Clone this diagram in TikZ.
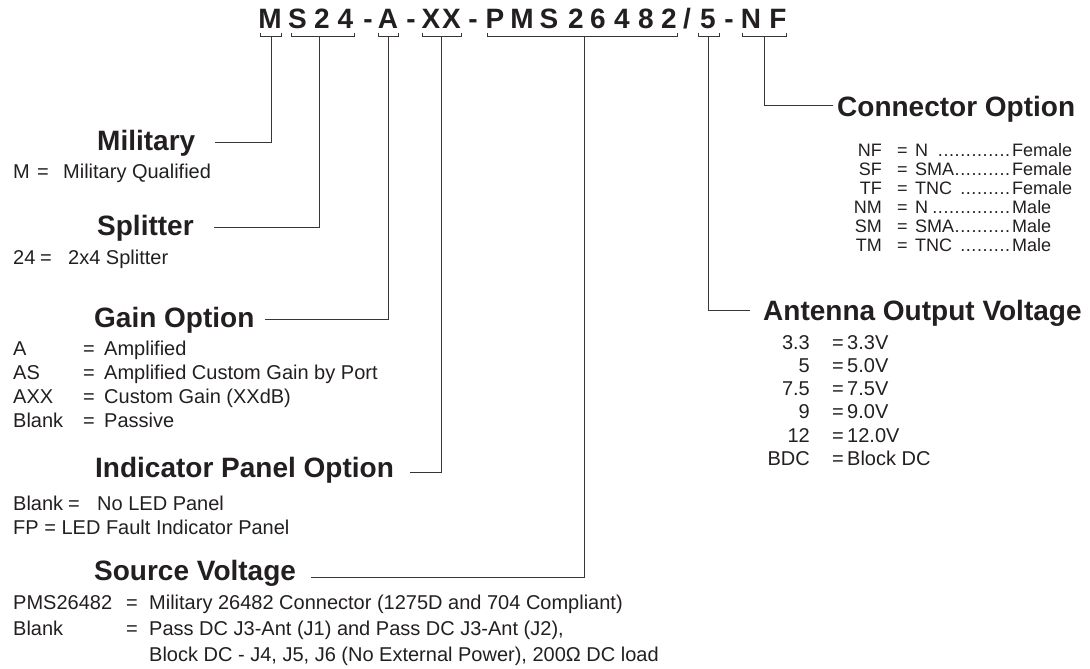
\documentclass[tikz,border=0pt]{standalone}
\usepackage{fontspec}
\setmainfont{Liberation Sans}
\usetikzlibrary{positioning}
\definecolor{ink}{HTML}{231F20}
\tikzset{
  every node/.style={inner sep=0pt, text=ink},
  % --- nodes
  code/.style  = {font=\fontsize{28}{30}\selectfont\bfseries, anchor=base},
  head/.style  = {font=\fontsize{28}{30}\selectfont\bfseries, anchor=base west},
  txt/.style   = {font=\fontsize{20}{24}\selectfont, anchor=base west},
  txtr/.style  = {txt, anchor=base east},
  tiny/.style  = {font=\fontsize{18}{19}\selectfont, anchor=base west},
  tinyr/.style = {tiny, anchor=base east},
  % --- edges
  lead/.style  = {draw=ink!90, line width=1pt},
}
\newcommand{\dotlead}[2]{\hbox to 97pt{#1\leaders\hbox to 5.6pt{\hss.\hss}\hfill}#2}

\begin{document}
\begin{tikzpicture}[x=1pt,y=-1pt]
  \useasboundingbox (0,0) rectangle (1090,669);

  % part number, one character at a time
  \foreach \cx/\ch [count=\i] in {270/M, 297.5/S, 322/2, 345.5/4, 368/-, 388/A, 411/-,
      431/X, 451.5/X, 473/-, 495/P, 522/M, 549/S, 576/2, 598/6, 622/4, 646/8, 669/2,
      687/{/}, 708/5, 729/-, 751/N, 778/F}
    \node[code] (t\i) at (\cx,29) {\ch};

  % brackets under the fields
  \foreach \a/\b in {260/281, 291/354, 378/398, 422/461, 487/677, 698/719, 742/786}
    \draw[lead] (\a,33) -- (\a,37) -- (\b,37) -- (\b,33);
  \coordinate (sMil)  at (271,37);
  \coordinate (sSpl)  at (319,37);
  \coordinate (sGain) at (388,37);
  \coordinate (sInd)  at (441,37);
  \coordinate (sSrc)  at (584,37);
  \coordinate (sAnt)  at (708,37);
  \coordinate (sCon)  at (764,37);

  % headings
  \node[head] (hMil)  at (97,150)  {Military};
  \node[head] (hSpl)  at (97,235)  {Splitter};
  \node[head] (hGain) at (94,327)  {Gain Option};
  \node[head] (hInd)  at (95,477)  {Indicator Panel Option};
  \node[head] (hSrc)  at (94,580)  {Source Voltage};
  \node[head] (hCon)  at (837,116) {Connector Option};
  \node[head] (hAnt)  at (763,320) {Antenna Output Voltage};

  \draw[lead] (sMil)  |- ([xshift=20pt]hMil.east);
  \draw[lead] (sSpl)  |- ([xshift=20pt]hSpl.east);
  \draw[lead] (sGain) |- ([xshift=10pt]hGain.east);
  \draw[lead] (sInd)  |- ([xshift=16pt,yshift=-3pt]hInd.east);
  \draw[lead] (sSrc)  |- ([xshift=15pt,yshift=-5pt]hSrc.east);
  \draw[lead] (sCon)  |- ([xshift=-4pt,yshift=3pt]hCon.west);
  \draw[lead] (sAnt)  |- ([xshift=-13pt,yshift=2pt]hAnt.west);

  % military / splitter
  \node[txt] (mC) at (13,178) {M};
  \node[txt] (mE) at (37,178) {=};
  \node[txt] (mV) at (63,178) {Military Qualified};
  \node[txt] (sC) at (13,264) {24};
  \node[txt] (sE) at (40,264) {=};
  \node[txt] (sV) at (68,264) {2x4 Splitter};

  % gain option
  \foreach \c/\v [count=\i] in {A/Amplified, AS/Amplified Custom Gain by Port,
      AXX/Custom Gain (XXdB), Blank/Passive}{
    \node[txt] (gC\i) at (13,{331+24*\i})  {\c};
    \node[txt] (gE\i) at (83,{331+24*\i})  {=};
    \node[txt] (gV\i) at (104,{331+24*\i}) {\v};
  }

  % indicator panel
  \node[txt] (iC) at (13,510) {Blank};
  \node[txt] (iE) at (68,510) {=};
  \node[txt] (iV) at (97,510) {No LED Panel};
  \node[txt] (iF) at (13,534) {FP = LED Fault Indicator Panel};

  % source voltage
  \node[txt] (vC1) at (13,609)  {PMS26482};
  \node[txt] (vE1) at (126,609) {=};
  \node[txt] (vV1) at (149,609) {Military 26482 Connector (1275D and 704 Compliant)};
  \node[txt] (vC2) at (13,635)  {Blank};
  \node[txt] (vE2) at (126,635) {=};
  \node[txt] (vV2) at (149,635) {Pass DC J3-Ant (J1) and Pass DC J3-Ant (J2),};
  \node[txt] (vV3) at (149,661) {Block DC - J4, J5, J6 (No External Power), 200Ω DC load};

  % connector option
  \foreach \c/\v/\s [count=\i] in {NF/{N\ }/Female, SF/SMA/Female, TF/{TNC\ }/Female,
      NM/N/Male, SM/SMA/Male, TM/{TNC\ }/Male}{
    \node[tinyr] (cC\i) at (882,{137+19*\i}) {\c};
    \node[tiny]  (cE\i) at (897,{137+19*\i}) {=};
    \node[tiny]  (cV\i) at (915,{137+19*\i}) {\dotlead{\v}{\s}};
  }

  % antenna output voltage
  \foreach \c/\v [count=\i] in {3.3/3.3V, 5/5.0V, 7.5/7.5V, 9/9.0V, 12/12.0V, BDC/Block DC}{
    \node[txtr] (aC\i) at (810,{325.7+23.3*\i}) {\c};
    \node[txt]  (aE\i) at (832,{325.7+23.3*\i}) {=};
    \node[txt]  (aV\i) at (847,{325.7+23.3*\i}) {\v};
  }
\end{tikzpicture}
\end{document}
